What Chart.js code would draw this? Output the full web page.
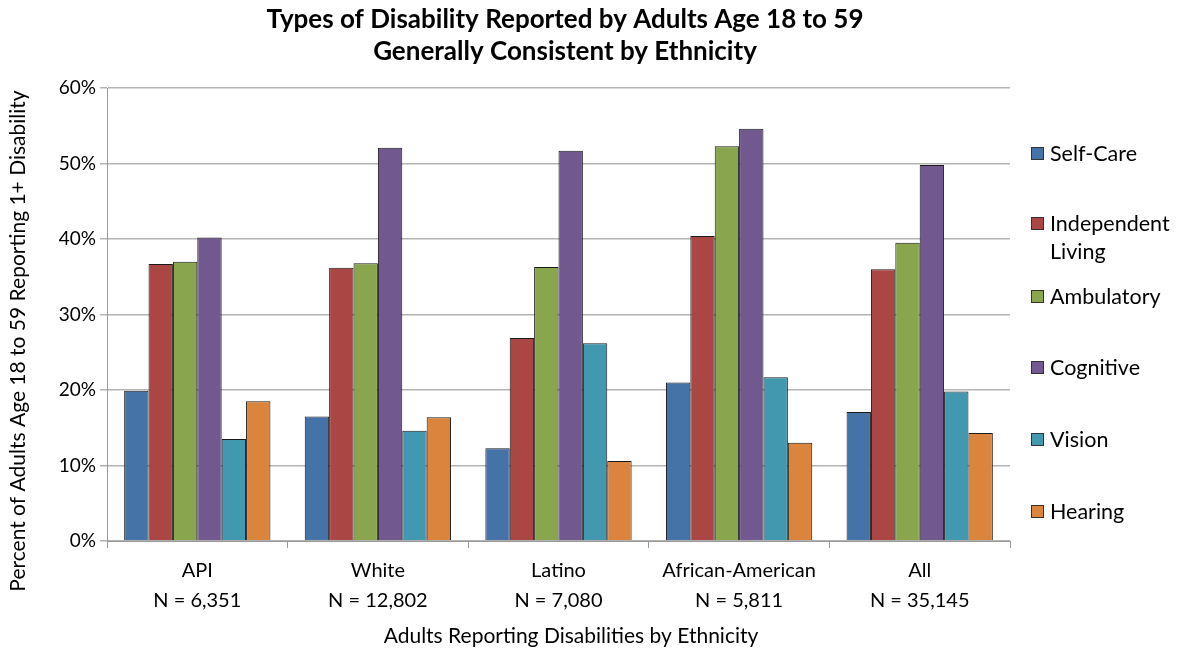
<!DOCTYPE html>
<html><head><meta charset="utf-8">
<script src="https://cdn.jsdelivr.net/npm/chart.js@4"></script>
<style>html,body{margin:0;padding:0;background:#fff}#wrap{width:1185px;height:649px;position:relative}</style>
</head><body><div id="wrap"><canvas id="c" width="1185" height="649"></canvas></div>
<script>
const titleLines = ["Types of Disability Reported by Adults Age 18 to 59", "Generally Consistent by Ethnicity"];
const xAxisTitle = "Adults Reporting Disabilities by Ethnicity";
const yAxisTitle = "Percent of Adults Age 18 to 59 Reporting 1+ Disability";
const categories = [["API","N = 6,351"],["White","N = 12,802"],["Latino","N = 7,080"],["African-American","N = 5,811"],["All","N = 35,145"]];
const seriesNames = ["Self-Care", "Independent Living", "Ambulatory", "Cognitive", "Vision", "Hearing"];
const legendLines = [["Self-Care"],["Independent","Living"],["Ambulatory"],["Cognitive"],["Vision"],["Hearing"]];
const selfCare    = [19.9, 16.5, 12.3, 21.0, 17.1];
const independent = [36.7, 36.2, 26.9, 40.4, 36.0];
const ambulatory  = [37.0, 36.8, 36.3, 52.3, 39.5];
const cognitive   = [40.2, 52.1, 51.7, 54.6, 49.8];
const vision      = [13.5, 14.6, 26.2, 21.7, 19.8];
const hearing     = [18.5, 16.4, 10.6, 13.0, 14.3];
const colors = ["#4572A7","#AA4643","#89A54E","#71588F","#4198AF","#DB843D"];
const yTicks = [0,10,20,30,40,50,60];

const FONT = "Lato, 'Open Sans', sans-serif";
const values = [selfCare, independent, ambulatory, cognitive, vision, hearing];

const textPlugin = {
  id: 'texts',
  afterDraw(chart) {
    const ctx = chart.ctx;
    ctx.save();
    ctx.fillStyle = '#000';
    ctx.textAlign = 'center';
    ctx.textBaseline = 'middle';
    ctx.font = "bold 26px " + FONT;
    ctx.fillText(titleLines[0], 565, 20);
    ctx.fillText(titleLines[1], 565, 52);
    ctx.font = "21px " + FONT;
    ctx.fillText(xAxisTitle, 571, 636);
    ctx.save();
    ctx.translate(18, 341);
    ctx.rotate(-Math.PI/2);
    ctx.fillText(yAxisTitle, 0, 0);
    ctx.restore();
    // legend
    const ys = [154, 238, 297, 368, 440, 512];
    ctx.textAlign = 'left';
    ctx.font = "21.5px " + FONT;
    chart.data.datasets.forEach((ds, i) => {
      const y = ys[i];
      const lines = legendLines[i];
      const top = y - (lines.length - 1) * 14;
      ctx.fillStyle = ds.backgroundColor;
      ctx.fillRect(1031.5, top - 6.5, 12, 12);
      ctx.strokeStyle = '#333';
      ctx.lineWidth = 1;
      ctx.strokeRect(1031.5, top - 6.5, 12, 12);
      ctx.fillStyle = '#000';
      lines.forEach((l, k) => ctx.fillText(l, 1050, top + k * 28));
    });
    ctx.restore();
  }
};

new Chart(document.getElementById('c'), {
  type: 'bar',
  data: {
    labels: categories,
    datasets: seriesNames.map((n, i) => ({
      label: n,
      data: values[i],
      backgroundColor: colors[i],
      borderColor: '#1a1a1a',
      borderWidth: 1,
      borderSkipped: 'bottom',
      categoryPercentage: 0.81,
      barPercentage: 1.0
    }))
  },
  options: {
    responsive: false,
    animation: false,
    devicePixelRatio: 1,
    layout: { padding: { top: 88, right: 175, left: 0, bottom: 0 } },
    plugins: { legend: { display: false }, title: { display: false }, tooltip: { enabled: false } },
    scales: {
      x: {
        afterFit(s) { s.height = 108; },
        grid: { offset: true, drawOnChartArea: false, drawTicks: true, tickLength: 7, color: '#999', lineWidth: 1 },
        border: { color: '#999', width: 1 },
        ticks: { color: '#000', font: { family: FONT, size: 20, lineHeight: 1.5 }, padding: 8, maxRotation: 0, autoSkip: false },
      },
      y: {
        min: 0, max: 60,
        afterFit(s) { s.width = 107; },
        afterBuildTicks(s) { s.ticks = yTicks.map(v => ({ value: v })); },
        grid: { color: '#b4b4b4', lineWidth: 1.5, drawTicks: true, tickLength: 7 },
        border: { color: '#999', width: 1 },
        ticks: { color: '#000', font: { family: FONT, size: 19 }, padding: 4, callback: v => v + '%' }
      }
    }
  },
  plugins: [textPlugin]
});
</script>
</body></html>
